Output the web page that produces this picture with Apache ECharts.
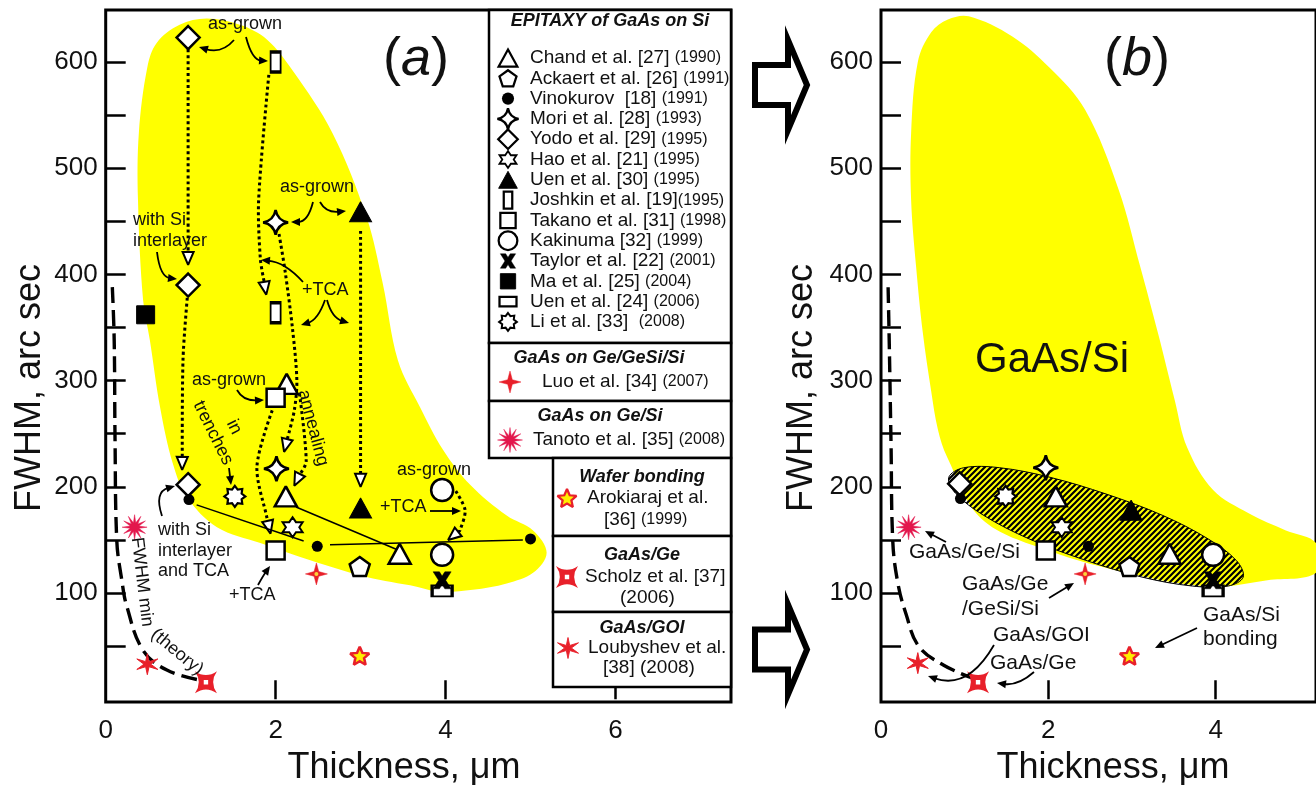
<!DOCTYPE html>
<html>
<head>
<meta charset="utf-8">
<title>FWHM vs thickness, GaAs on Si</title>
<script src="https://cdn.jsdelivr.net/npm/echarts@6.0.0/dist/echarts.min.js"></script>
<style>
  html, body { margin: 0; padding: 0; background: #fff; }
  #main { width: 1316px; height: 789px; }
</style>
</head>
<body>
<div id="main"></div>
<script>
// axis ticks and labels
var xLabelsA = [0, 2, 4, 6];
var xTicksA = [2, 4, 6];
var xLabelsB = [0, 2, 4];
var xTicksB = [2, 4];
var yLabels = [100, 200, 300, 400, 500, 600];
var yTicks = [50, 100, 150, 200, 250, 300, 350, 400, 450, 500, 550, 600];

// panel (a): thickness (um), FWHM (arc sec)
var chandA = [[2.13, 297], [2.12, 191], [3.46, 137]];
var ackaertA = [[2.99, 125]];
var vinokurovA = [[0.98, 188], [2.49, 144], [5.0, 151]];
var moriA = [[2.0, 449], [2.01, 217]];
var yodoA = [[0.97, 623], [0.97, 390], [0.97, 202]];
var haoA = [[2.2, 162]];
var uen30A = [[3.0, 459], [3.0, 180]];
var joshkinA = [[2.0, 600], [2.0, 364]];
var takanoA = [[2.0, 284], [2.0, 140]];
var kakinumaA = [[3.96, 197], [3.96, 136]];
var taylorA = [[3.96, 112]];
var maA = [[0.47, 362]];
var uen24A = [[3.96, 102]];
var liA = [[1.52, 191]];
var luoA = [[2.48, 118]];
var tanotoA = [[0.34, 162]];
var arokiarajA = [[2.99, 41]];
var scholzA = [[1.18, 16]];
var loubyshevA = [[0.49, 33]];

// panel (b)
var chandB = [[2.09, 191], [3.45, 137]];
var ackaertB = [[2.97, 125]];
var vinokurovB = [[0.95, 189], [2.48, 144]];
var moriB = [[1.97, 218]];
var yodoB = [[0.94, 203]];
var haoB = [[2.16, 162]];
var uen30B = [[2.99, 178]];
var joshkinB = [];
var takanoB = [[1.97, 140]];
var kakinumaB = [[3.97, 136]];
var taylorB = [[3.97, 112]];
var maB = [];
var uen24B = [[3.97, 102]];
var liB = [[1.49, 191]];
var luoB = [[2.44, 118]];
var tanotoB = [[0.33, 162]];
var arokiarajB = [[2.97, 41]];
var scholzB = [[1.16, 16]];
var loubyshevB = [[0.44, 34]];

// theoretical minimum FWHM
var theoryA = [[0.078, 388], [0.10, 338], [0.11, 244], [0.13, 150], [0.19, 112], [0.25, 87], [0.44, 46], [0.72, 27.5], [1.11, 18]];
var theoryB = [[0.085, 388], [0.10, 330], [0.12, 240], [0.14, 150], [0.2, 110], [0.3, 80], [0.45, 50], [0.75, 32], [1.09, 20]];

// dotted "as-grown -> treated" paths, panel (a), arrow at the last point
var dottedPaths = [
  [[0.97, 612], [0.97, 409]],
  [[0.96, 378], [0.91, 320], [0.90, 216]],
  [[1.92, 588], [1.80, 470], [1.82, 415], [1.89, 381]],
  [[2.04, 438], [2.11, 404], [2.20, 348], [2.25, 300], [2.22, 272], [2.10, 233]],
  [[1.96, 272], [1.78, 219], [1.90, 170], [1.94, 156]],
  [[2.28, 288], [2.36, 224], [2.22, 201]],
  [[3.0, 441], [3.0, 200]],
  [[4.12, 196], [4.23, 178], [4.17, 159], [4.03, 150]]
];
// thin solid lines, panel (a)
var solidLines = [
  [[1.07, 183], [2.33, 149]],
  [[2.64, 145.5], [4.91, 150]],
  [[2.24, 181], [3.44, 140.5]]
];

// yellow GaAs/Si regions and the hatched region of panel (b)
var blobA = [[1.19, 641], [1.58, 635], [1.90, 621], [2.20, 592], [2.67, 533], [3.07, 454], [3.26, 392],
  [3.44, 319], [3.70, 275], [3.97, 235], [4.29, 202], [4.72, 173], [5.03, 159], [5.19, 138],
  [5.03, 119], [4.72, 109], [4.32, 103], [3.93, 101], [3.66, 106], [3.07, 115], [2.29, 134],
  [1.82, 147], [1.31, 162], [0.96, 190], [0.79, 222], [0.64, 275], [0.52, 338], [0.44, 376],
  [0.38, 470], [0.39, 533], [0.49, 595], [0.60, 618], [0.87, 635]];
var blobB = [[1.05, 643], [1.57, 624], [2.01, 595], [2.44, 555], [2.84, 480], [3.1, 407], [3.31, 345],
  [3.51, 282], [3.66, 237], [3.97, 197], [4.4, 175], [4.84, 159], [5.2, 147], [5.2, 119],
  [4.62, 112], [3.97, 106], [3.0, 118], [2.0, 140], [1.2, 170], [0.79, 228], [0.68, 254],
  [0.6, 290], [0.5, 345], [0.42, 407], [0.36, 470], [0.36, 533], [0.44, 600], [0.6, 628], [0.8, 640]];
var hatchB = [[4.33, 115], [4.15, 106.6], [3.72, 106.6], [3.12, 115], [2.44, 131], [1.77, 151],
  [1.23, 173], [0.89, 194], [0.81, 209], [0.99, 218], [1.42, 218], [2.02, 209], [2.70, 193],
  [3.37, 173], [3.91, 151], [4.25, 130.5]];

var F = '"Liberation Sans", Arial, Helvetica, sans-serif';
var K = '#000', W = '#fff', RED = '#e8202a', CRIMSON = '#e3174c', YEL = '#ffff00';

function starPath(n, ro, ri) {
  var s = '';
  for (var i = 0; i < 2 * n; i++) {
    var r = i % 2 ? ri : ro;
    var a = -Math.PI / 2 + i * Math.PI / n;
    s += (i ? 'L' : 'M') + (10 + r * Math.cos(a)).toFixed(2) + ',' + (10 + r * Math.sin(a)).toFixed(2) + ' ';
  }
  return s + 'Z';
}
var TRI = 'M10,0 L20,18 L0,18 Z';
var DIAM = 'M10,0 L20,10 L10,20 L0,10 Z';
var RECT = 'M0,0 L20,0 L20,20 L0,20 Z';
var CIRC = 'M0,10 A10,10 0 1,1 20,10 A10,10 0 1,1 0,10 Z';
var PENT = 'M10,0 L19.51,6.91 L15.88,18.09 L4.12,18.09 L0.49,6.91 Z';
var STAR4 = 'M10,0 Q11.5,8.5 20,10 Q11.5,11.5 10,20 Q8.5,11.5 0,10 Q8.5,8.5 10,0 Z';
var XSHAPE = 'M0,0 L7,0 L10,5 L13,0 L20,0 L14,10 L20,20 L13,20 L10,15 L7,20 L0,20 L6,10 Z';
// concave square with a small square hole
var CONCAVE = 'M0,0 Q10,7 20,0 Q13,10 20,20 Q10,13 0,20 Q7,10 0,0 Z M8,8 L8,12 L12,12 L12,8 Z';

var MK = {
  chand: { p: TRI, w: 22, h: 20, fill: W, stroke: K, lw: 2.5 },
  ackaert: { p: PENT, w: 20, h: 19, fill: W, stroke: K, lw: 2.5 },
  vinokurov: { p: CIRC, w: 11, h: 11, fill: K, stroke: K, lw: 0 },
  mori: { p: STAR4, w: 25, h: 25, fill: W, stroke: K, lw: 2.5 },
  yodo: { p: DIAM, w: 23, h: 23, fill: W, stroke: K, lw: 2.5 },
  hao: { p: starPath(6, 10, 5.8), w: 20, h: 20, fill: W, stroke: K, lw: 2 },
  uen30: { p: TRI, w: 22, h: 20, fill: K, stroke: K, lw: 1 },
  joshkin: { p: RECT, w: 10, h: 20, fill: W, stroke: K, lw: 2.5 },
  takano: { p: RECT, w: 18, h: 18, fill: W, stroke: K, lw: 2.5 },
  kakinuma: { p: CIRC, w: 22, h: 22, fill: W, stroke: K, lw: 2.5 },
  taylor: { p: XSHAPE, w: 18, h: 17, fill: K, stroke: K, lw: 0.5 },
  ma: { p: RECT, w: 18, h: 18, fill: K, stroke: K, lw: 1 },
  uen24: { p: RECT, w: 20, h: 11, fill: W, stroke: K, lw: 2.5 },
  li: { p: starPath(8, 10, 7), w: 21, h: 21, fill: W, stroke: K, lw: 2.2 },
  luo: { p: starPath(4, 10, 3), w: 22, h: 22, fill: RED, stroke: RED, lw: 0.5 },
  tanoto: { p: starPath(12, 10, 3.6), w: 25, h: 25, fill: CRIMSON, stroke: CRIMSON, lw: 0.5 },
  arokiaraj: { p: starPath(5, 10, 4.6), w: 19, h: 18, fill: '#ffee00', stroke: RED, lw: 2.5 },
  scholz: { p: CONCAVE, w: 22, h: 22, fill: RED, stroke: RED, lw: 0 },
  loubyshev: { p: starPath(6, 10, 2.8), w: 21, h: 21, fill: RED, stroke: RED, lw: 1 }
};

var groups = [
  ['chand', chandA, chandB], ['ackaert', ackaertA, ackaertB], ['yodo', yodoA, yodoB],
  ['mori', moriA, moriB], ['hao', haoA, haoB], ['uen30', uen30A, uen30B],
  ['joshkin', joshkinA, joshkinB], ['takano', takanoA, takanoB], ['kakinuma', kakinumaA, kakinumaB],
  ['uen24', uen24A, uen24B], ['taylor', taylorA, taylorB], ['ma', maA, maB], ['li', liA, liB],
  ['vinokurov', vinokurovA, vinokurovB], ['luo', luoA, luoB], ['tanoto', tanotoA, tanotoB],
  ['arokiaraj', arokiarajA, arokiarajB], ['scholz', scholzA, scholzB], ['loubyshev', loubyshevA, loubyshevB]
];

function scatter(name, data, mk, g) {
  return {
    type: 'scatter', name: name, data: data, xAxisIndex: g, yAxisIndex: g, z: 10, silent: true,
    symbol: 'path://' + mk.p, symbolSize: [mk.w, mk.h],
    itemStyle: { color: mk.fill, borderColor: mk.stroke, borderWidth: mk.lw, borderMiterLimit: 2.2, opacity: 1 }
  };
}

function hatchCanvas() {
  var c = document.createElement('canvas');
  c.width = 6; c.height = 6;
  var g = c.getContext('2d');
  g.strokeStyle = '#000'; g.lineWidth = 2.2;
  g.beginPath();
  g.moveTo(0, 6); g.lineTo(6, 0);
  g.moveTo(-1, 1); g.lineTo(1, -1);
  g.moveTo(5, 7); g.lineTo(7, 5);
  g.stroke();
  return c;
}

function polygonSeries(g, pts, style, z) {
  return {
    type: 'custom', xAxisIndex: g, yAxisIndex: g, z: z, silent: true, clip: true,
    data: [pts[0]],
    renderItem: function (params, api) {
      return { type: 'polygon', shape: { points: pts.map(function (p) { return api.coord(p); }), smooth: 0.35 }, style: style };
    }
  };
}

var series = [];
series.push(polygonSeries(0, blobA, { fill: YEL }, 1));
series.push(polygonSeries(1, blobB, { fill: YEL }, 1));
series.push(polygonSeries(1, hatchB, { fill: { type: 'pattern', image: hatchCanvas(), repeat: 'repeat' }, stroke: '#000', lineWidth: 1 }, 2));

// dotted paths with open arrowheads
series.push({
  type: 'custom', xAxisIndex: 0, yAxisIndex: 0, z: 4, silent: true,
  data: dottedPaths.map(function (p) { return p[p.length - 1]; }),
  renderItem: function (params, api) {
    var pts = dottedPaths[params.dataIndex].map(function (p) { return api.coord(p); });
    var n = pts.length, tip = pts[n - 1], prev = pts[n - 2];
    var dx = tip[0] - prev[0], dy = tip[1] - prev[1], L = Math.sqrt(dx * dx + dy * dy);
    dx /= L; dy /= L;
    var hl = 13, hw = 5.5;
    var b = [tip[0] - dx * hl, tip[1] - dy * hl];
    return {
      type: 'group', children: [
        { type: 'polyline', shape: { points: pts.slice(0, n - 1).concat([b]), smooth: 0.3 },
          style: { stroke: '#000', lineWidth: 3, lineDash: [3, 3], fill: null } },
        { type: 'polygon', shape: { points: [tip, [b[0] - dy * hw, b[1] + dx * hw], [b[0] + dy * hw, b[1] - dx * hw]] },
          style: { fill: '#fff', stroke: '#000', lineWidth: 2, miterLimit: 2.2 } }
      ]
    };
  }
});
series.push({
  type: 'custom', xAxisIndex: 0, yAxisIndex: 0, z: 4, silent: true,
  data: solidLines.map(function (p) { return p[0]; }),
  renderItem: function (params, api) {
    return { type: 'polyline', shape: { points: solidLines[params.dataIndex].map(function (p) { return api.coord(p); }) },
      style: { stroke: '#000', lineWidth: 1.5, fill: null } };
  }
});
[theoryA, theoryB].forEach(function (d, g) {
  series.push({
    type: 'line', data: d, xAxisIndex: g, yAxisIndex: g, z: 3, silent: true, smooth: 0.4,
    symbol: 'none', lineStyle: { color: '#000', width: 3.4, type: [16, 7] }
  });
});
groups.forEach(function (gr) {
  series.push(scatter(gr[0] + 'A', gr[1], MK[gr[0]], 0));
  series.push(scatter(gr[0] + 'B', gr[2], MK[gr[0]], 1));
});
[luoA, luoB].forEach(function (d, g) {
  series.push({ type: 'scatter', data: d, xAxisIndex: g, yAxisIndex: g, z: 11, silent: true,
    symbol: 'circle', symbolSize: 4, itemStyle: { color: '#ffff40' } });
});

function xAxis(g, max, labels, ticks) {
  return {
    type: 'value', gridIndex: g, min: 0, max: max, axisLine: { show: false }, splitLine: { show: false },
    axisTick: { show: true, inside: true, length: 19, lineStyle: { color: '#000', width: 2.5 }, customValues: ticks },
    axisLabel: { customValues: labels, fontSize: 26, color: '#111', fontFamily: F, margin: 16 }
  };
}
function yAxis(g) {
  return {
    type: 'value', gridIndex: g, min: -2.6, max: 649, axisLine: { show: false }, splitLine: { show: false },
    axisTick: { show: true, inside: true, length: 20, lineStyle: { color: '#000', width: 2.5 }, customValues: yTicks },
    axisLabel: { customValues: yLabels, fontSize: 26, color: '#111', fontFamily: F, margin: 8 }
  };
}

// ---------- graphic: legend, annotations ----------
var G = [];
var legendMarks = [];
function txt(t, x, y, size, opt) {
  opt = opt || {};
  var el = {
    type: 'text', z: 120, x: x, y: y, rotation: opt.rot || 0,
    style: { text: t, x: 0, y: 0, fill: '#111', fontSize: size, fontFamily: F,
      fontWeight: opt.bold ? 'bold' : 'normal', fontStyle: opt.italic ? 'italic' : 'normal',
      align: opt.align || 'left', verticalAlign: 'middle', textAlign: opt.align || 'left', textVerticalAlign: 'middle' }
  };
  if (opt.rich) el.style.rich = opt.rich;
  G.push(el);
}
function arrowTo(p0, cp, p1) {
  var dx = p1[0] - cp[0], dy = p1[1] - cp[1], L = Math.sqrt(dx * dx + dy * dy);
  dx /= L; dy /= L;
  var hl = 9, hw = 4;
  var b = [p1[0] - dx * hl, p1[1] - dy * hl];
  G.push({ type: 'bezierCurve', z: 120, shape: { x1: p0[0], y1: p0[1], cpx1: cp[0], cpy1: cp[1], x2: b[0] + dx * 2, y2: b[1] + dy * 2 },
    style: { stroke: '#000', lineWidth: 1.8, fill: null } });
  G.push({ type: 'polygon', z: 121, shape: { points: [p1, [b[0] - dy * hw, b[1] + dx * hw], [b[0] + dy * hw, b[1] - dx * hw]] },
    style: { fill: '#000' } });
}
function straight(p0, p1) { arrowTo(p0, [(p0[0] + p1[0]) / 2, (p0[1] + p1[1]) / 2], p1); }
function mark(k, cx, cy, s) { legendMarks.push({ k: k, cx: cx, cy: cy, s: s }); }
function box(x, y, w, h) {
  G.push({ type: 'rect', z: 100, shape: { x: x, y: y, width: w, height: h }, style: { fill: '#fff', stroke: '#000', lineWidth: 2.5 } });
}

// legend boxes
box(489, 10, 242, 333); box(489, 343, 242, 58); box(489, 401, 242, 57);
box(553, 458, 178, 78); box(553, 536, 178, 76); box(553, 612, 178, 75);

var epiRows = ['chand', 'ackaert', 'vinokurov', 'mori', 'yodo', 'hao', 'uen30', 'joshkin', 'takano', 'kakinuma', 'taylor', 'ma', 'uen24', 'li'];
var epiNames = ['Chand et al. [27] ', 'Ackaert et al. [26] ', 'Vinokurov  [18] ', 'Mori et al. [28] ', 'Yodo et al. [29] ',
  'Hao et al. [21] ', 'Uen et al. [30] ', 'Joshkin et al. [19]', 'Takano et al. [31] ', 'Kakinuma [32] ',
  'Taylor et al. [22] ', 'Ma et al. [25] ', 'Uen et al. [24] ', 'Li et al. [33]  '];
var epiYears = ['(1990)', '(1991)', '(1991)', '(1993)', '(1995)', '(1995)', '(1995)', '(1995)', '(1998)', '(1999)',
  '(2001)', '(2004)', '(2006)', '(2008)'];
var RICH = { n: { fontSize: 19, fontFamily: F, fill: '#111' }, y: { fontSize: 16, fontFamily: F, fill: '#111' } };

txt('EPITAXY of GaAs on Si', 610, 21, 18, { bold: true, italic: true, align: 'center' });
epiRows.forEach(function (k, i) {
  var y = 58 + 20.3 * i;
  mark(k, 508, y, k === 'vinokurov' ? 1.1 : 0.85);
  txt('{n|' + epiNames[i] + '}{y|' + epiYears[i] + '}', 530, y, 19, { rich: RICH });
});
txt('GaAs on Ge/GeSi/Si', 599, 358, 18, { bold: true, italic: true, align: 'center' });
mark('luo', 510, 382, 1);
txt('{n|Luo et al. [34] }{y|(2007)}', 542, 382, 19, { rich: RICH });
txt('GaAs on Ge/Si', 600, 416, 18, { bold: true, italic: true, align: 'center' });
mark('tanoto', 510, 440, 1);
txt('{n|Tanoto et al. [35] }{y|(2008)}', 533, 440, 19, { rich: RICH });
txt('Wafer bonding', 642, 477, 18, { bold: true, italic: true, align: 'center' });
mark('arokiaraj', 567, 498, 1);
txt('Arokiaraj et al.', 587, 498, 19);
txt('{n|[36] }{y|(1999)}', 604, 520, 19, { rich: RICH });
txt('GaAs/Ge', 642, 555, 18, { bold: true, italic: true, align: 'center' });
mark('scholz', 567, 577, 1);
txt('Scholz et al. [37]', 585, 577, 19);
txt('(2006)', 620, 598, 19);
txt('GaAs/GOI', 642, 628, 18, { bold: true, italic: true, align: 'center' });
mark('loubyshev', 568, 648, 1);
txt('Loubyshev et al.', 588, 648, 19);
txt('[38] (2008)', 603, 668, 19);

// legend symbols, drawn in pixel space
series.push({
  type: 'custom', coordinateSystem: 'none', z: 110, silent: true,
  data: legendMarks.map(function (m, i) { return i; }),
  renderItem: function (params) {
    var m = legendMarks[params.dataIndex], mk = MK[m.k];
    var w = mk.w * m.s, h = mk.h * m.s;
    return { type: 'path', shape: { pathData: mk.p, layout: 'cover', x: m.cx - w / 2, y: m.cy - h / 2, width: w, height: h },
      style: { fill: mk.fill, stroke: mk.lw ? mk.stroke : null, lineWidth: mk.lw * 0.9, miterLimit: 2.2 } };
  }
});

// panel labels and axis names
var PAR = { p: { fontSize: 54, fontFamily: F, fill: '#111' }, i: { fontSize: 54, fontFamily: F, fontStyle: 'italic', fill: '#111' } };
txt('{p|(}{i|a}{p|)}', 416, 60, 54, { align: 'center', rich: PAR });
txt('{p|(}{i|b}{p|)}', 1137, 60, 54, { align: 'center', rich: PAR });
txt('FWHM, arc sec', 30, 388, 36, { align: 'center', rot: Math.PI / 2 });
txt('FWHM, arc sec', 802, 388, 36, { align: 'center', rot: Math.PI / 2 });
txt('Thickness, \u03bcm', 404, 768, 36, { align: 'center' });
txt('Thickness, \u03bcm', 1113, 768, 36, { align: 'center' });

// hollow arrows between the panels
[85, 649.5].forEach(function (cy) {
  G.push({ type: 'polygon', z: 100, shape: { points: [[755, cy - 20], [788, cy - 20], [788, cy - 45], [807, cy], [788, cy + 45], [788, cy + 20], [755, cy + 20]] },
    style: { fill: '#fff', stroke: '#000', lineWidth: 6, lineJoin: 'miter' } });
});

// annotations, panel (a)
txt('as-grown', 208, 24, 18);
arrowTo([234, 40], [222, 54], [199, 47]);
arrowTo([246, 37], [252, 60], [268, 61]);
txt('as-grown', 280, 187, 18);
arrowTo([313, 202], [308, 222], [291, 222]);
arrowTo([320, 202], [326, 213], [346, 211]);
txt('with Si', 133, 220, 18);
txt('interlayer', 133, 241, 18);
arrowTo([157, 252], [160, 277], [177, 279]);
txt('+TCA', 302, 290, 18);
arrowTo([303, 282], [285, 262], [261, 260]);
arrowTo([325, 300], [318, 320], [301, 325]);
arrowTo([327, 300], [332, 318], [349, 323]);
txt('as-grown', 192, 380, 18);
arrowTo([237, 390], [243, 401], [264, 400]);
txt('in', 234, 427, 18, { align: 'center', rot: -1.11 });
txt('trenches', 213, 433, 18, { align: 'center', rot: -1.11 });
arrowTo([229, 468], [230, 476], [231, 485]);
txt('annealing', 313, 428, 18, { align: 'center', rot: -1.31 });
txt('as-grown', 397, 470, 18);
txt('+TCA', 380, 507, 18);
straight([430, 511], [461, 511]);
txt('with Si', 158, 530, 18);
txt('interlayer', 158, 551, 18);
txt('and TCA', 158, 571, 18);
arrowTo([162, 516], [154, 492], [175, 486]);
txt('+TCA', 229, 595, 18);
arrowTo([258, 585], [263, 576], [270, 566]);
txt('FWHM min', 142, 582, 18, { align: 'center', rot: -1.45 });
txt('(theory)', 177, 652, 18, { align: 'center', rot: -0.69 });

// annotations, panel (b)
txt('GaAs/Si', 1052, 360, 42, { align: 'center' });
txt('GaAs/Ge/Si', 909, 552, 21);
straight([946, 542], [925, 531]);
txt('GaAs/Ge', 962, 584, 21);
txt('/GeSi/Si', 962, 609, 21);
straight([1049, 598], [1074, 583]);
txt('GaAs/Si', 1203, 615, 21);
txt('bonding', 1203, 639, 21);
straight([1197, 628], [1155, 648]);
txt('GaAs/GOI', 993, 635, 21);
arrowTo([994, 645], [968, 690], [928, 676]);
txt('GaAs/Ge', 990, 663, 21);
arrowTo([1034, 672], [1018, 686], [997, 683]);

var option = {
  animation: false,
  backgroundColor: '#fff',
  textStyle: { fontFamily: F },
  grid: [
    { left: 105.7, top: 10, width: 625.3, height: 692, show: true, borderColor: '#000', borderWidth: 3, backgroundColor: 'transparent' },
    { left: 881, top: 10, width: 439, height: 692, show: true, borderColor: '#000', borderWidth: 3, backgroundColor: 'transparent' }
  ],
  xAxis: [xAxis(0, 7.36, xLabelsA, xTicksA), xAxis(1, 5.2, xLabelsB, xTicksB)],
  yAxis: [yAxis(0), yAxis(1)],
  series: series,
  graphic: { elements: G }
};

var chart = echarts.init(document.getElementById('main'));
chart.setOption(option);
</script>
</body>
</html>
